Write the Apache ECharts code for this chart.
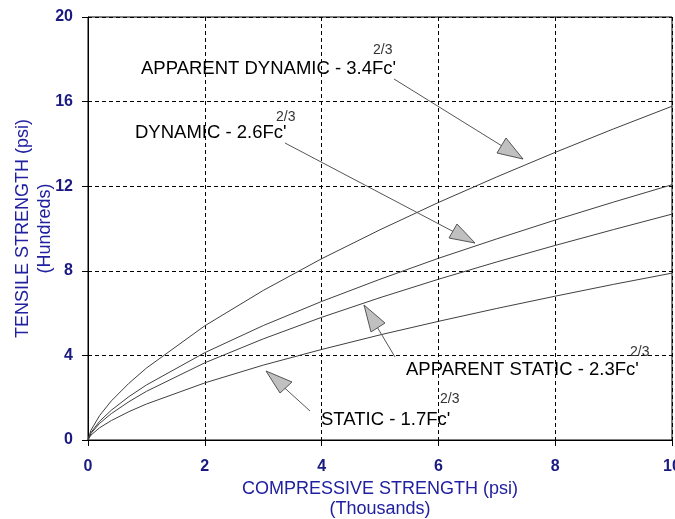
<!DOCTYPE html>
<html>
<head>
<meta charset="utf-8">
<script src="https://cdn.jsdelivr.net/npm/echarts@6/dist/echarts.min.js"></script>
<style>html,body{margin:0;padding:0;background:#fff}#c{width:675px;height:519px}</style>
</head>
<body>
<div id="c"></div>
<script>
// Compressive strength (thousands psi)
const xValues = [0, 0.05, 0.2, 0.4, 0.7, 1, 2, 3, 4, 5, 6, 7, 8, 9, 10];
// Tensile strength (hundreds psi)
const apparentDynamic = [0, 0.46, 1.16, 1.85, 2.68, 3.4, 5.4, 7.07, 8.57, 9.94, 11.23, 12.44, 13.6, 14.71, 15.78];
const dynamic         = [0, 0.35, 0.89, 1.41, 2.05, 2.6, 4.13, 5.41, 6.55, 7.6, 8.59, 9.51, 10.4, 11.25, 12.07];
const apparentStatic  = [0, 0.31, 0.79, 1.25, 1.81, 2.3, 3.65, 4.78, 5.8, 6.73, 7.6, 8.42, 9.2, 9.95, 10.68];
const staticVals      = [0, 0.23, 0.58, 0.92, 1.34, 1.7, 2.7, 3.54, 4.28, 4.97, 5.61, 6.22, 6.8, 7.36, 7.89];
const seriesNames = ['APPARENT DYNAMIC - 3.4Fc\'', 'DYNAMIC - 2.6Fc\'', 'APPARENT STATIC - 2.3Fc\'', 'STATIC - 1.7Fc\''];

const FONT = 'Liberation Sans, Arial, sans-serif';
const AXIS_BLUE = '#1a1a80';
const NAME_BLUE = '#2020a0';

function pairs(ys){ return xValues.map((x,i)=>[x, ys[i]]); }
const allSeries = [apparentDynamic, dynamic, apparentStatic, staticVals];

const chart = echarts.init(document.getElementById('c'));

function arrow(x1,y1,tip,v1,v2){
  return [
    {type:'line', shape:{x1:x1,y1:y1,x2:tip[0],y2:tip[1]}, style:{stroke:'#555',lineWidth:1}, z:100},
    {type:'polygon', shape:{points:[tip,v1,v2]}, style:{fill:'#c0c0c0',stroke:'#555',lineWidth:1}, z:101}
  ];
}
function label(txt,x,y,supX,supY){
  return [
    {type:'text', x:x, y:y, style:{text:txt, font:'18.5px '+FONT, fill:'#000', textVerticalAlign:'middle'}, z:102},
    {type:'text', x:supX, y:supY, style:{text:'2/3', font:'14px '+FONT, fill:'#333', textVerticalAlign:'middle'}, z:102}
  ];
}

const graphics = [].concat(
  arrow(394,79,[523,159],[506,138],[497,153]),
  arrow(285,143,[475,243],[457,224],[449,238]),
  arrow(395,357,[364,305],[385,323],[371,332]),
  arrow(310,411,[266,371],[292,382],[280,393]),
  label(seriesNames[0],141,69,373,50),
  label(seriesNames[1],135,133,276,117),
  label(seriesNames[2],406,370,630,352),
  label(seriesNames[3],321,420,440,399)
);

chart.setOption({
  animation:false,
  grid:{left:88, top:17, right:3, bottom:79, show:true, borderColor:'#000', borderWidth:1, backgroundColor:'transparent', containLabel:false, outerBoundsMode:'none'},
  xAxis:{
    type:'value', min:0, max:10, interval:2,
    name:'COMPRESSIVE STRENGTH (psi)\n(Thousands)', nameLocation:'middle', nameGap:39, nameMoveOverlap:false,
    nameTextStyle:{color:NAME_BLUE, fontSize:18, fontFamily:FONT, lineHeight:20},
    axisLine:{show:true, lineStyle:{color:'#000'}},
    axisTick:{show:true, inside:false, length:6, lineStyle:{color:'#000'}},
    axisLabel:{color:AXIS_BLUE, fontSize:16, fontWeight:'bold', fontFamily:FONT, margin:19},
    splitLine:{show:true, lineStyle:{color:'#000', type:[4,3], width:1}}
  },
  yAxis:{
    type:'value', min:0, max:20, interval:4,
    name:'TENSILE STRENGTH (psi)\n(Hundreds)', nameLocation:'middle', nameGap:32, nameRotate:90, nameMoveOverlap:false,
    nameTextStyle:{color:NAME_BLUE, fontSize:18, fontFamily:FONT, lineHeight:22},
    axisLine:{show:true, lineStyle:{color:'#000'}},
    axisTick:{show:true, inside:false, length:6, lineStyle:{color:'#000'}},
    axisLabel:{color:AXIS_BLUE, fontSize:16, fontWeight:'bold', fontFamily:FONT, margin:15},
    splitLine:{show:true, lineStyle:{color:'#000', type:[4,3], width:1}}
  },
  series: allSeries.map((ys,i)=>({
    name:seriesNames[i], type:'line', data:pairs(ys), showSymbol:false, symbol:'none',
    lineStyle:{color:'#404040', width:1}, silent:true, z:5
  })),
  graphic: graphics
});
</script>
</body>
</html>
